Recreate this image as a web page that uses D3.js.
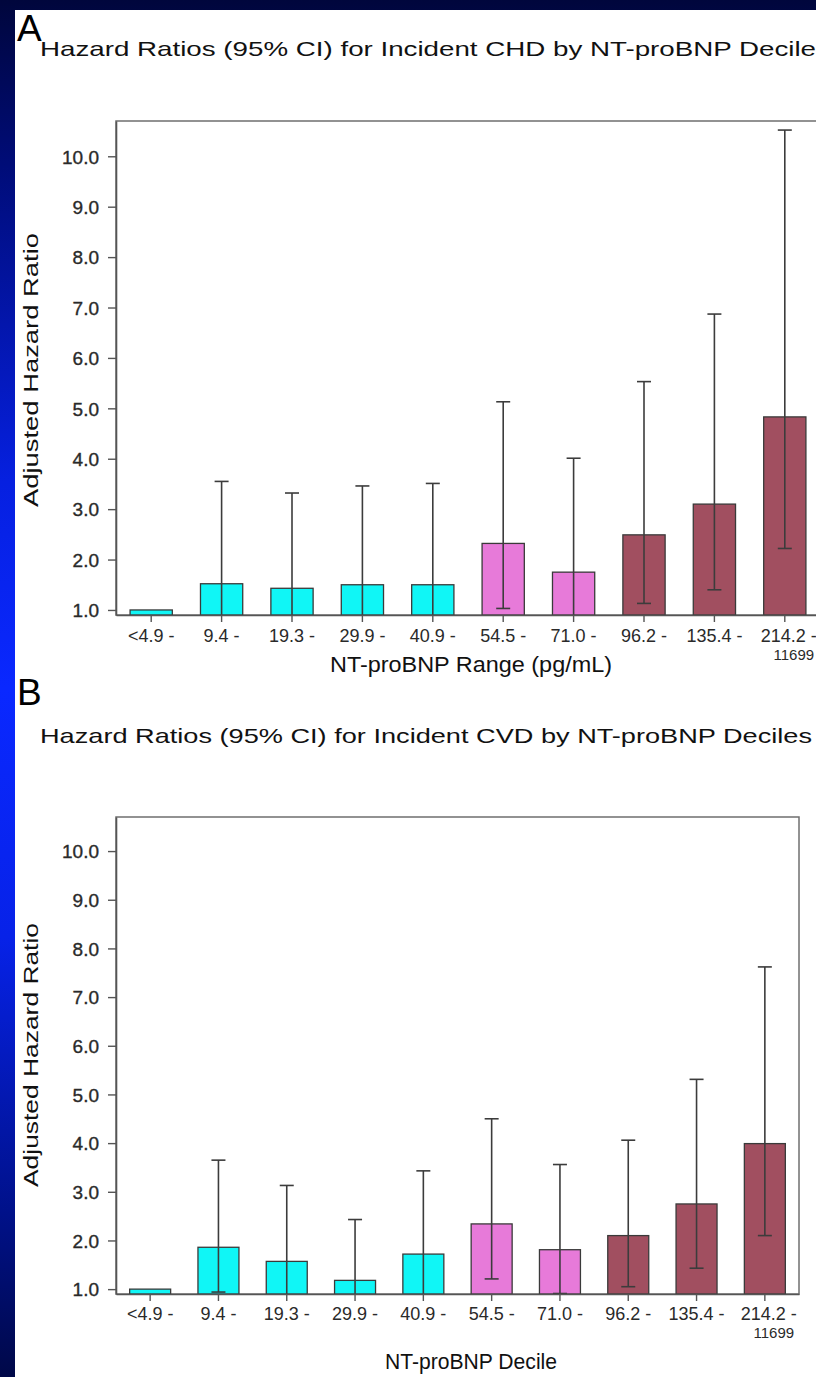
<!DOCTYPE html>
<html>
<head>
<meta charset="utf-8">
<script src="https://cdn.jsdelivr.net/npm/d3@7"></script>
<style>
  html, body { margin: 0; padding: 0; background: #000a50; }
  svg { display: block; }
  text { font-family: "Liberation Sans", Arial, sans-serif; }
</style>
</head>
<body>
<div id="chart"></div>
<script>
// ---------- data ----------
const categories = ["<4.9 -", "9.4 -", "19.3 -", "29.9 -", "40.9 -", "54.5 -", "71.0 -", "96.2 -", "135.4 -", "214.2 -"];
const categorySubLabels = ["", "", "", "", "", "", "", "", "", "11699"];
const groups = ["low", "low", "low", "low", "low", "mid", "mid", "high", "high", "high"];
const yTickValues = [1, 2, 3, 4, 5, 6, 7, 8, 9, 10];

// Panel A: incident CHD
const chdHR    = [1.00, 1.52, 1.43, 1.50, 1.50, 2.32, 1.75, 2.49, 3.10, 4.83];
const chdUpper = [null, 3.55, 3.32, 3.46, 3.51, 5.13, 4.01, 5.53, 6.87, 10.52];
const chdLower = [null, 0.64, 0.62, 0.65, 0.64, 1.03, 0.76, 1.13, 1.40, 2.22];

// Panel B: incident CVD
const cvdHR    = [1.00, 1.86, 1.57, 1.18, 1.72, 2.34, 1.81, 2.10, 2.75, 3.99];
const cvdUpper = [null, 3.65, 3.13, 2.43, 3.43, 4.50, 3.56, 4.06, 5.31, 7.62];
const cvdLower = [null, 0.94, 0.78, 0.57, 0.87, 1.21, 0.91, 1.05, 1.43, 2.10];

const panelLetters = ["A", "B"];
const panelTitles = [
  "Hazard Ratios (95% CI) for Incident CHD by NT-proBNP Decile",
  "Hazard Ratios (95% CI) for Incident CVD by NT-proBNP Deciles"
];
const xAxisTitles = ["NT-proBNP Range (pg/mL)", "NT-proBNP Decile"];
const yAxisTitle = "Adjusted Hazard Ratio";

// ---------- styling / layout ----------
const W = 816, H = 1377;
const groupColor = { low: "#10f6f6", mid: "#e77ad9", high: "#a14f60" };

const layouts = [
  { letterY: 41, titleY: 56, titleLen: 776, left: 116, right: 820, top: 121, bottom: 615,
    ylabelY: 370, ylabelLen: 274, labelY: 642, subY: 660, xTitleY: 672, xTitleLen: 282 },
  { letterY: 705, titleY: 743, titleLen: 772, left: 116, right: 799, top: 817, bottom: 1294,
    ylabelY: 1055, ylabelLen: 264, labelY: 1320, subY: 1338, xTitleY: 1369, xTitleLen: 172 }
];

const panels = [
  { hr: chdHR, lo: chdLower, hi: chdUpper },
  { hr: cvdHR, lo: cvdLower, hi: cvdUpper }
];

const svg = d3.select("#chart").append("svg")
  .attr("width", W).attr("height", H);

// background gradient frame
const defs = svg.append("defs");
const grad = defs.append("linearGradient").attr("id", "bg")
  .attr("x1", 0).attr("y1", 0).attr("x2", 0).attr("y2", 1);
[[0, "#00063c"], [0.12, "#000c78"], [0.35, "#0620e0"], [0.5, "#0a28ff"], [0.68, "#0722e8"], [0.88, "#00118a"], [1, "#000848"]]
  .forEach(([o, c]) => grad.append("stop").attr("offset", o).attr("stop-color", c));
svg.append("rect").attr("width", W).attr("height", H).attr("fill", "url(#bg)");
svg.append("rect").attr("x", 15).attr("y", 10).attr("width", W - 15).attr("height", H - 10).attr("fill", "#ffffff");

panels.forEach((p, i) => {
  const L = layouts[i];
  const g = svg.append("g");

  // letter & title
  g.append("text").attr("x", 17).attr("y", L.letterY)
    .attr("font-size", 37).attr("fill", "#000").text(panelLetters[i]);
  g.append("text").attr("x", 40).attr("y", L.titleY)
    .attr("font-size", 21).attr("fill", "#111")
    .attr("textLength", L.titleLen).attr("lengthAdjust", "spacingAndGlyphs")
    .text(panelTitles[i]);

  const x = d3.scaleBand().domain(categories).range([L.left, L.right])
    .paddingInner(0.4).paddingOuter(0.2);
  const y = d3.scaleLinear().domain([0.9, 10.7]).range([L.bottom, L.top]);

  // frame (top/right)
  g.append("rect").attr("x", L.left).attr("y", L.top)
    .attr("width", L.right - L.left).attr("height", L.bottom - L.top)
    .attr("fill", "none").attr("stroke", "#6f6f6f").attr("stroke-width", 1.5);

  const data = categories.map((c, k) => ({ c, k, hr: p.hr[k], lo: p.lo[k], hi: p.hi[k], grp: groups[k] }));

  // bars
  g.selectAll("rect.bar").data(data).join("rect").attr("class", "bar")
    .attr("x", d => x(d.c)).attr("width", x.bandwidth())
    .attr("y", d => y(d.hr)).attr("height", d => y.range()[0] - y(d.hr))
    .attr("fill", d => groupColor[d.grp])
    .attr("stroke", "#3a3a3a").attr("stroke-width", 1.3);

  // error bars
  const eb = data.filter(d => d.hi != null);
  const cx = d => x(d.c) + x.bandwidth() / 2;
  const yc = v => y(Math.max(v, y.domain()[0]));
  g.selectAll("line.whisk").data(eb).join("line").attr("class", "whisk")
    .attr("x1", cx).attr("x2", cx)
    .attr("y1", d => y(d.hi)).attr("y2", d => yc(d.lo))
    .attr("stroke", "#3c3c3c").attr("stroke-width", 1.6);
  g.selectAll("line.capHi").data(eb).join("line").attr("class", "capHi")
    .attr("x1", d => cx(d) - 7).attr("x2", d => cx(d) + 7)
    .attr("y1", d => y(d.hi)).attr("y2", d => y(d.hi))
    .attr("stroke", "#3c3c3c").attr("stroke-width", 1.6);
  g.selectAll("line.capLo").data(eb.filter(d => d.lo >= y.domain()[0])).join("line").attr("class", "capLo")
    .attr("x1", d => cx(d) - 7).attr("x2", d => cx(d) + 7)
    .attr("y1", d => y(d.lo)).attr("y2", d => y(d.lo))
    .attr("stroke", "#3c3c3c").attr("stroke-width", 1.6);

  // y axis
  const yAxis = g.append("g").attr("transform", `translate(${L.left},0)`)
    .call(d3.axisLeft(y).tickValues(yTickValues).tickFormat(d3.format(".1f")).tickSize(8).tickSizeOuter(0).tickPadding(9));
  yAxis.select(".domain").attr("stroke", "#555").attr("stroke-width", 1.6);
  yAxis.selectAll(".tick line").attr("stroke", "#555").attr("stroke-width", 1.4);
  yAxis.selectAll(".tick text").attr("font-size", 19).attr("fill", "#2a2a2a")
    .attr("stroke", "#2a2a2a").attr("stroke-width", 0.35)
    .attr("font-family", "'Liberation Sans', Arial, sans-serif").attr("dy", "0.36em");

  // x axis
  const xAxis = g.append("g").attr("transform", `translate(0,${L.bottom})`)
    .call(d3.axisBottom(x).tickSize(7).tickSizeOuter(0).tickFormat(() => ""));
  xAxis.select(".domain").attr("stroke", "#555").attr("stroke-width", 1.6);
  xAxis.selectAll(".tick line").attr("stroke", "#555").attr("stroke-width", 1.4);

  // x tick labels (two lines for last)
  g.selectAll("text.xl").data(data).join("text").attr("class", "xl")
    .attr("x", d => cx(d) + (d.k === 9 ? 4 : 0)).attr("y", L.labelY)
    .attr("text-anchor", "middle").attr("font-size", 18).attr("fill", "#2a2a2a")
    .text(d => d.c);
  g.selectAll("text.xs").data(data.filter(d => categorySubLabels[d.k])).join("text").attr("class", "xs")
    .attr("x", d => cx(d) + 9).attr("y", L.subY)
    .attr("text-anchor", "middle").attr("font-size", 15).attr("fill", "#2a2a2a")
    .text(d => categorySubLabels[d.k]);

  // axis titles
  g.append("text").attr("x", 471).attr("y", L.xTitleY)
    .attr("text-anchor", "middle").attr("font-size", 22).attr("fill", "#111")
    .attr("textLength", L.xTitleLen).attr("lengthAdjust", "spacingAndGlyphs")
    .text(xAxisTitles[i]);
  g.append("text").attr("transform", `translate(38,${L.ylabelY}) rotate(-90)`)
    .attr("text-anchor", "middle").attr("font-size", 21).attr("fill", "#111")
    .attr("textLength", L.ylabelLen).attr("lengthAdjust", "spacingAndGlyphs")
    .text(yAxisTitle);
});
</script>
</body>
</html>
